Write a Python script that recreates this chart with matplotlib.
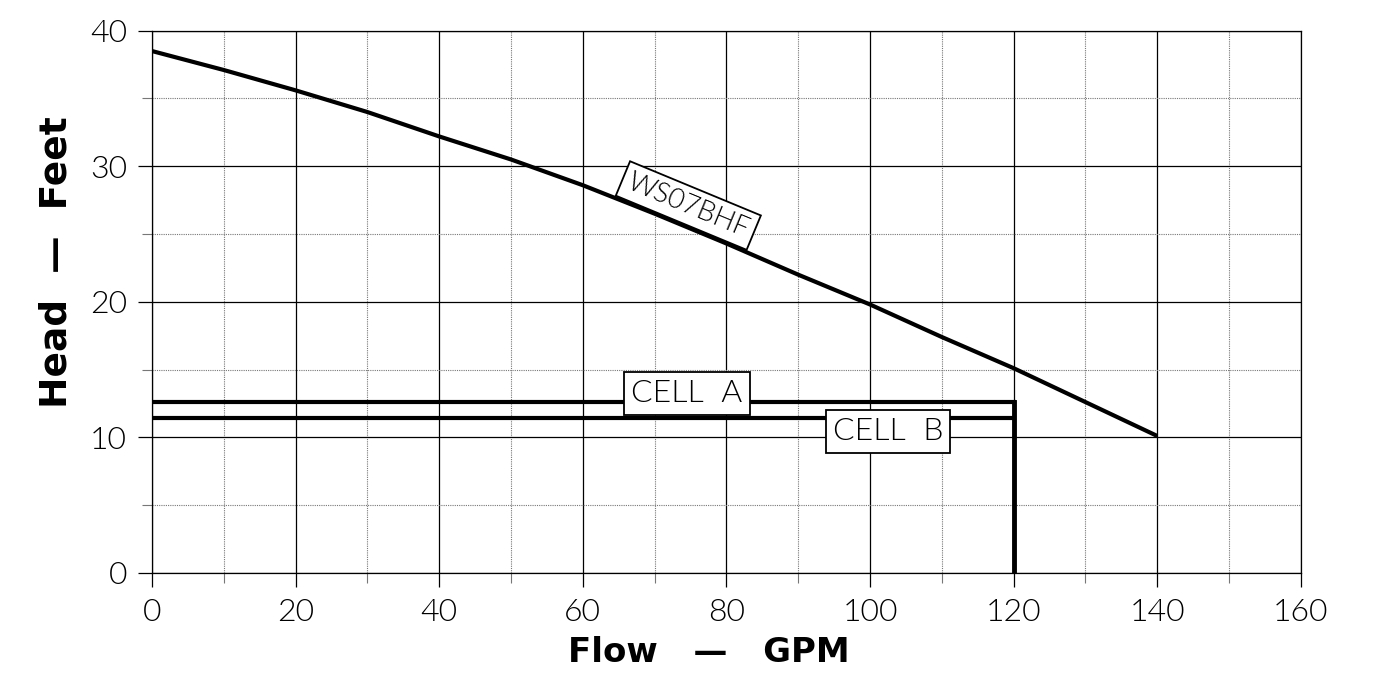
import numpy as np
import matplotlib
matplotlib.use("Agg")
import matplotlib.pyplot as plt
from matplotlib.ticker import MultipleLocator

# pump curve
flow = [0, 10, 20, 30, 40, 50, 60, 70, 80, 90, 100, 110, 120, 130, 140]
head = [38.5, 37.1, 35.6, 34.0, 32.2, 30.5, 28.6, 26.5, 24.3, 22.0, 19.8, 17.4, 15.1, 12.6, 10.1]
pump_name = "WS07BHF"

# system lines
cell_flow = [0, 120]
cell_a_head = 12.6
cell_b_head = 11.4
cell_names = ["CELL  A", "CELL  B"]

x_ticks = [0, 20, 40, 60, 80, 100, 120, 140, 160]
y_ticks = [0, 10, 20, 30, 40]

TICK_FONT = dict(family=["Lato", "DejaVu Sans"], weight=300, size=23, color="black")
BOX_FONT = dict(family=["Lato", "DejaVu Sans"], weight=300, size=23, color="black")
LAB_FONT = dict(family=["DejaVu Sans"], weight="bold", color="black")

fig = plt.figure(figsize=(13.81, 6.82), dpi=100)
ax = fig.add_axes([0.110, 0.160, 0.832, 0.795])

ax.set_xlim(0, 160)
ax.set_ylim(0, 40)

# grid
ax.xaxis.set_major_locator(MultipleLocator(20))
ax.xaxis.set_minor_locator(MultipleLocator(10))
ax.yaxis.set_major_locator(MultipleLocator(10))
ax.yaxis.set_minor_locator(MultipleLocator(5))
ax.grid(which="major", color="black", linewidth=0.9)
ax.grid(which="minor", color="#777777", linewidth=0.8, linestyle=(0, (1, 1)))
ax.tick_params(which="major", direction="out", length=10, width=0.9, color="black", pad=8)
ax.tick_params(which="minor", direction="out", length=7, width=0.8, color="#777777")
for sp in ax.spines.values():
    sp.set_linewidth(0.9)

ax.set_xticks(x_ticks)
ax.set_yticks(y_ticks)
ax.set_xticklabels([str(v) for v in x_ticks], **TICK_FONT)
ax.set_yticklabels([str(v) for v in y_ticks], **TICK_FONT)

# curves
ax.plot(flow, head, color="black", linewidth=3, solid_capstyle="butt", zorder=3)
ax.plot(cell_flow, [cell_a_head] * 2, color="black", linewidth=3, zorder=3)
ax.plot(cell_flow, [cell_b_head] * 2, color="black", linewidth=3, zorder=3)
ax.plot([cell_flow[1]] * 2, [0, cell_a_head], color="black", linewidth=3.5, zorder=3)

box = dict(boxstyle="square,pad=0.22", facecolor="white", edgecolor="black", linewidth=1.3)
ax.text(74.7, 27.1, pump_name, rotation=-22.5, rotation_mode="anchor", ha="center", va="center",
        bbox=box, zorder=4, **dict(BOX_FONT, size=20))
ax.text(74.5, 13.2, cell_names[0], ha="center", va="center",
        bbox=box, zorder=4, **BOX_FONT)
ax.text(102.5, 10.4, cell_names[1], ha="center", va="center",
        bbox=box, zorder=4, **BOX_FONT)

ax.set_xlabel("Flow   —   GPM", va="center", size=24.5, **LAB_FONT)
ax.xaxis.set_label_coords(0.485, -0.146)
ax.set_ylabel("Head  —  Feet", va="center", size=27, **LAB_FONT)
ax.yaxis.set_label_coords(-0.083, 0.5725)

fig.savefig("out.png", dpi=100, facecolor="white")
